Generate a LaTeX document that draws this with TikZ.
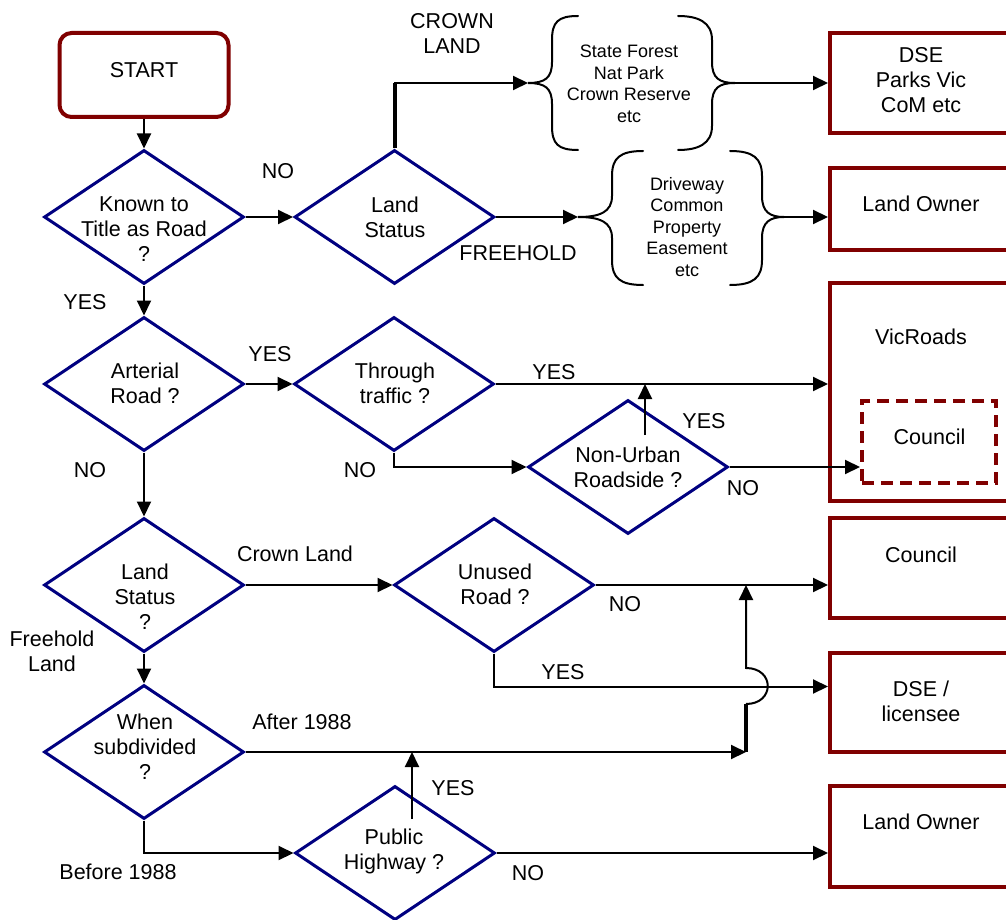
\documentclass[tikz,border=0pt]{standalone}
\usepackage{fontspec}
\setmainfont{Liberation Sans}
\usetikzlibrary{shapes.geometric,arrows.meta}
\definecolor{boxred}{RGB}{128,0,0}
\definecolor{dianavy}{RGB}{0,0,128}
\begin{document}
\begin{tikzpicture}[x=1pt,y=-1pt,
  conn/.style={line width=2pt, draw=black},
  arr/.style={conn,-{Triangle[length=15pt,width=14pt]}},
  thickseg/.style={line width=4pt, draw=black},
  dia/.style={diamond, draw=dianavy, line width=3pt, minimum width=200pt, minimum height=134pt, inner sep=0pt},
  endbox/.style={rectangle, draw=boxred, line width=4pt, minimum width=182pt, inner sep=0pt},
  startbox/.style={rectangle, rounded corners=12pt, draw=boxred, line width=4pt, minimum width=169pt, minimum height=84pt, inner sep=0pt},
  dashbox/.style={rectangle, draw=boxred, line width=4pt, dash pattern=on 12pt off 7pt, minimum width=134pt, minimum height=82pt, inner sep=0pt},
  txt/.style={font=\fontsize{21.5}{25}\selectfont, align=center, inner sep=0pt},
  small/.style={font=\fontsize{18}{21.5}\selectfont, align=center, inner sep=0pt},
  brace/.style={line width=2pt, draw=black, line cap=round}
]
\useasboundingbox (0,0) rectangle (1006,920);
\clip (0,0) rectangle (1006,920);

% start and end boxes
\node[startbox] (start) at (144,75) {};
\node[endbox, minimum height=100pt] (dse) at (921,83) {};
\node[endbox, minimum height=82pt] (lo1) at (921,209) {};
\node[endbox, minimum height=218pt] (vic) at (921,392) {};
\node[dashbox] (cd) at (929,442) {};
\node[endbox, minimum height=100pt] (cou) at (921,568) {};
\node[endbox, minimum height=99pt] (lic) at (921,702.5) {};
\node[endbox, minimum height=101pt] (lo2) at (921,836.5) {};

\node[txt] at (144,70) {START};
\node[txt] at (921,80) {DSE\\Parks Vic\\CoM etc};
\node[txt] at (921,204) {Land Owner};
\node[txt] at (921,337) {VicRoads};
\node[txt] at (929.5,437) {Council};
\node[txt] at (921,555) {Council};
\node[txt] at (921,701) {DSE /\\licensee};
\node[txt] at (921,822) {Land Owner};

% diamonds
\node[dia] (d1) at (144,217) {};
\node[dia] (ls1) at (394.5,217) {};
\node[dia] (art) at (144,384) {};
\node[dia] (thr) at (394,384) {};
\node[dia] (nu) at (628,467) {};
\node[dia] (ls2) at (144,585) {};
\node[dia] (un) at (494,585) {};
\node[dia] (wh) at (144,752) {};
\node[dia] (ph) at (395,853) {};

\node[txt] at (144,229) {Known to\\Title as Road\\?};
\node[txt] at (395,217) {Land\\Status};
\node[txt] at (145,383) {Arterial\\Road ?};
\node[txt] at (395,383) {Through\\traffic ?};
\node[txt] at (628,467) {Non-Urban\\Roadside ?};
\node[txt] at (145,597) {Land\\Status\\?};
\node[txt] at (495,584) {Unused\\Road ?};
\node[txt] at (145,747) {When\\subdivided\\?};
\node[txt] at (394,851) {Public\\Highway ?};

% braces
\coordinate (b1l) at (528,83);
\coordinate (b1r) at (735,83);
\coordinate (b2l) at (578,217);
\coordinate (b2r) at (784,217);
\draw[brace] (578,16) .. controls (558,16) and (552,22) .. (552,40) -- (552,62) .. controls (552,78) and (545,83) .. (b1l) .. controls (545,83) and (552,88) .. (552,104) -- (552,126) .. controls (552,144) and (558,150) .. (578,150);
\draw[brace] (678,16) .. controls (698,16) and (712,22) .. (712,40) -- (712,62) .. controls (712,78) and (719,83) .. (b1r) .. controls (719,83) and (712,88) .. (712,104) -- (712,126) .. controls (712,144) and (698,150) .. (678,150);
\draw[brace] (643,151) .. controls (620,151) and (612,158) .. (612,176) -- (612,196) .. controls (612,212) and (600,217) .. (b2l) .. controls (600,217) and (612,222) .. (612,238) -- (612,260) .. controls (612,278) and (620,285) .. (643,285);
\draw[brace] (730,151) .. controls (753,151) and (762,158) .. (762,176) -- (762,196) .. controls (762,212) and (770,217) .. (b2r) .. controls (770,217) and (762,222) .. (762,238) -- (762,260) .. controls (762,278) and (753,285) .. (730,285);
\node[small] at (629,84) {State Forest\\Nat Park\\Crown Reserve\\etc};
\node[small] at (687,227) {Driveway\\Common\\Property\\Easement\\etc};

% connectors
\draw[arr] (start.south) -- (d1.north);
\draw[arr] (d1.east) -- (ls1.west);
\draw[arr] (ls1.north) |- (b1l);
\draw[thickseg] (ls1.north) -- (ls1.north |- b1l);
\draw[arr] (b1r) -- (b1r -| dse.west);
\draw[arr] (ls1.east) -- (b2l);
\draw[arr] (b2r) -- (b2r -| lo1.west);
\draw[arr] (d1.south) -- (art.north);
\draw[arr] (art.east) -- (thr.west);
\draw[arr] (thr.east) -- (thr.east -| vic.west);
\draw[arr] (thr.south) |- (nu.west);
\coordinate (nuup) at (645,435);
\draw[arr] (nuup) -- (nuup |- thr.east);
\draw[arr] (nu.east) -- (nu.east -| cd.west);
\draw[arr] (art.south) -- (ls2.north);
\draw[arr] (ls2.east) -- (un.west);
\draw[arr] (un.east) -- (un.east -| cou.west);
\draw[arr] (un.south) |- ([yshift=16pt]lic.west);
\draw[arr] (ls2.south) -- (wh.north);
\coordinate (hopB) at (746,704);
\coordinate (hopT) at (746,668);
\draw[arr] (wh.east) -- (wh.east -| hopB);
\draw[thickseg] (wh.east -| hopB) -- (hopB);
\draw[arr] (hopB) .. controls (775,704) and (775,668) .. (hopT) -- (hopT |- un.east);
\draw[arr] (wh.south) |- (ph.west);
\coordinate (phup) at (412,819);
\draw[arr] (phup) -- (phup |- wh.east);
\draw[arr] (ph.east) -- (ph.east -| lo2.west);

% edge labels
\node[txt] at (278,171) {NO};
\node[txt] at (452,33) {CROWN\\LAND};
\node[txt] at (518,253) {FREEHOLD};
\node[txt] at (85,302) {YES};
\node[txt] at (270,354) {YES};
\node[txt] at (554,372) {YES};
\node[txt] at (360,470) {NO};
\node[txt] at (704,421) {YES};
\node[txt] at (743,488) {NO};
\node[txt] at (90,470) {NO};
\node[txt] at (295,554) {Crown Land};
\node[txt] at (625,604) {NO};
\node[txt] at (563,672) {YES};
\node[txt] at (52,651) {Freehold\\Land};
\node[txt] at (302,722) {After 1988};
\node[txt] at (453,788) {YES};
\node[txt] at (528,873) {NO};
\node[txt] at (118,872) {Before 1988};
\end{tikzpicture}
\end{document}
